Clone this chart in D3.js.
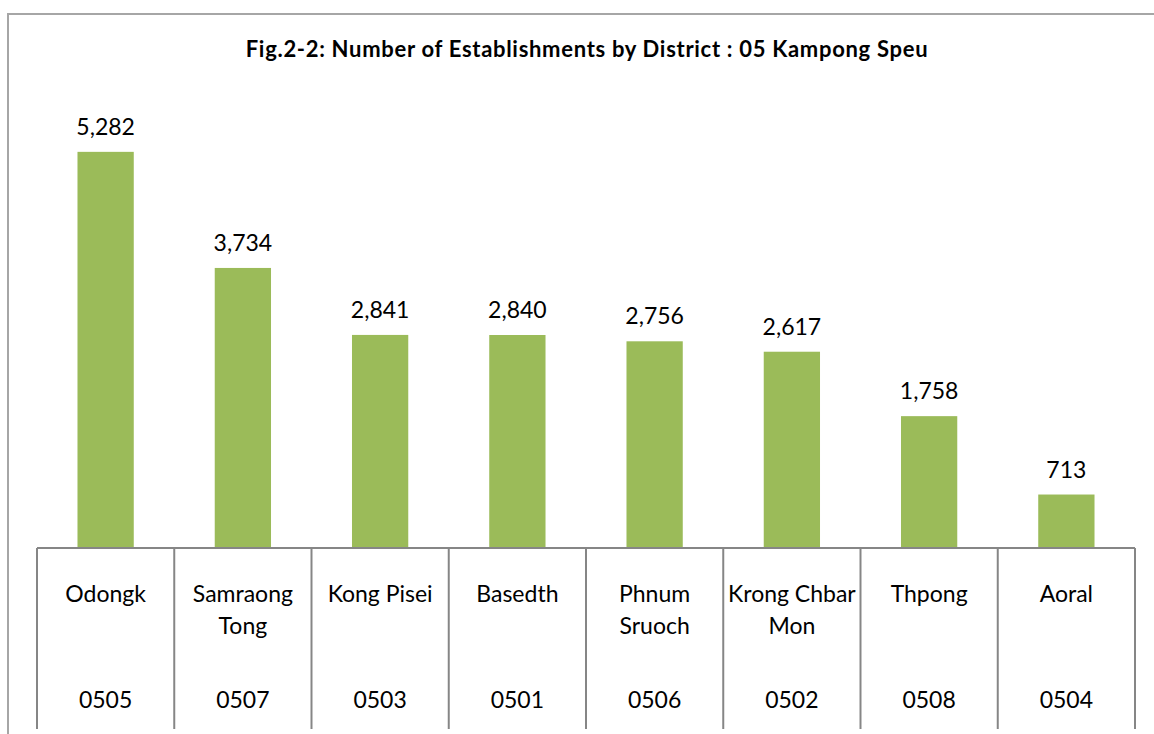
<!DOCTYPE html>
<html lang="en">
    <head>
        <meta charset="utf-8">
        <title>Number of Establishments by District</title>
        <script type="text/javascript" src="https://cdn.jsdelivr.net/npm/d3@7"></script>
        <style>
            body { margin: 0; background: #fff; }
        </style>
    </head>
    <body>
        <script type="text/javascript">
        // chart data
        var districts = [["Odongk"], ["Samraong", "Tong"], ["Kong Pisei"], ["Basedth"],
                         ["Phnum", "Sruoch"], ["Krong Chbar", "Mon"], ["Thpong"], ["Aoral"]];
        var codes = ["0505", "0507", "0503", "0501", "0506", "0502", "0508", "0504"];
        var values = [5282, 3734, 2841, 2840, 2756, 2617, 1758, 713];
        var title = "Fig.2-2: Number of Establishments by District : 05 Kampong Speu";

        var w = 1154;
        var h = 734;
        var left = 37, right = 1135, baseY = 548, bottomY = 729;
        var font = "Lato, 'Open Sans', sans-serif";

        var svg = d3.select("body")
                    .append("svg")
                    .attr("width", w)
                    .attr("height", h);

        // outer chart border (right and bottom run off the page)
        svg.append("rect")
            .attr("x", 8)
            .attr("y", 14)
            .attr("width", 1200)
            .attr("height", 800)
            .attr("fill", "none")
            .attr("stroke", "#a6a6a6")
            .attr("stroke-width", 2);

        svg.append("text")
            .text(title)
            .attr("x", 587)
            .attr("y", 57)
            .attr("text-anchor", "middle")
            .attr("font-family", font)
            .attr("font-weight", "bold")
            .attr("font-size", "22px")
            .attr("letter-spacing", "0.7px")
            .attr("fill", "#000");

        var x = d3.scaleBand()
                  .domain(d3.range(values.length))
                  .range([left, right]);
        var y = d3.scaleLinear()
                  .domain([0, 6000])
                  .range([baseY, baseY - 450]);
        var barW = x.bandwidth() * 0.41;

        svg.selectAll("rect.bar")
            .data(values)
            .enter()
            .append("rect")
            .attr("class", "bar")
            .attr("x", function(d, i) {
                return x(i) + (x.bandwidth() - barW) / 2;
            })
            .attr("y", function(d) {
                return y(d);
            })
            .attr("width", barW)
            .attr("height", function(d) {
                return baseY - y(d);
            })
            .attr("fill", "#9bbb59");

        svg.selectAll("text.val")
            .data(values)
            .enter()
            .append("text")
            .attr("class", "val")
            .text(function(d) {
                return d3.format(",")(d);
            })
            .attr("x", function(d, i) {
                return x(i) + x.bandwidth() / 2;
            })
            .attr("y", function(d) {
                return y(d) - 17;
            })
            .attr("text-anchor", "middle")
            .attr("font-family", font)
            .attr("font-size", "23px")
            .attr("fill", "#000");

        // category axis table
        svg.append("line")
            .attr("x1", left)
            .attr("x2", right)
            .attr("y1", baseY)
            .attr("y2", baseY)
            .attr("stroke", "#868686")
            .attr("stroke-width", 2);

        svg.selectAll("line.div")
            .data(d3.range(values.length + 1))
            .enter()
            .append("line")
            .attr("class", "div")
            .attr("x1", function(d) { return left + d * x.bandwidth(); })
            .attr("x2", function(d) { return left + d * x.bandwidth(); })
            .attr("y1", baseY)
            .attr("y2", bottomY)
            .attr("stroke", "#868686")
            .attr("stroke-width", 2);

        var names = svg.selectAll("text.name")
            .data(districts)
            .enter()
            .append("text")
            .attr("class", "name")
            .attr("text-anchor", "middle")
            .attr("font-family", font)
            .attr("font-size", "23px")
            .attr("fill", "#000");
        names.selectAll("tspan")
            .data(function(d, i) {
                return d.map(function(s) { return {s: s, i: i}; });
            })
            .enter()
            .append("tspan")
            .attr("x", function(d) { return x(d.i) + x.bandwidth() / 2; })
            .attr("y", function(d, j) { return 602 + j * 32; })
            .text(function(d) { return d.s; });

        svg.selectAll("text.code")
            .data(codes)
            .enter()
            .append("text")
            .attr("class", "code")
            .text(function(d) { return d; })
            .attr("x", function(d, i) {
                return x(i) + x.bandwidth() / 2;
            })
            .attr("y", 708)
            .attr("text-anchor", "middle")
            .attr("font-family", font)
            .attr("font-size", "23px")
            .attr("fill", "#000");
        </script>
    </body>
</html>
